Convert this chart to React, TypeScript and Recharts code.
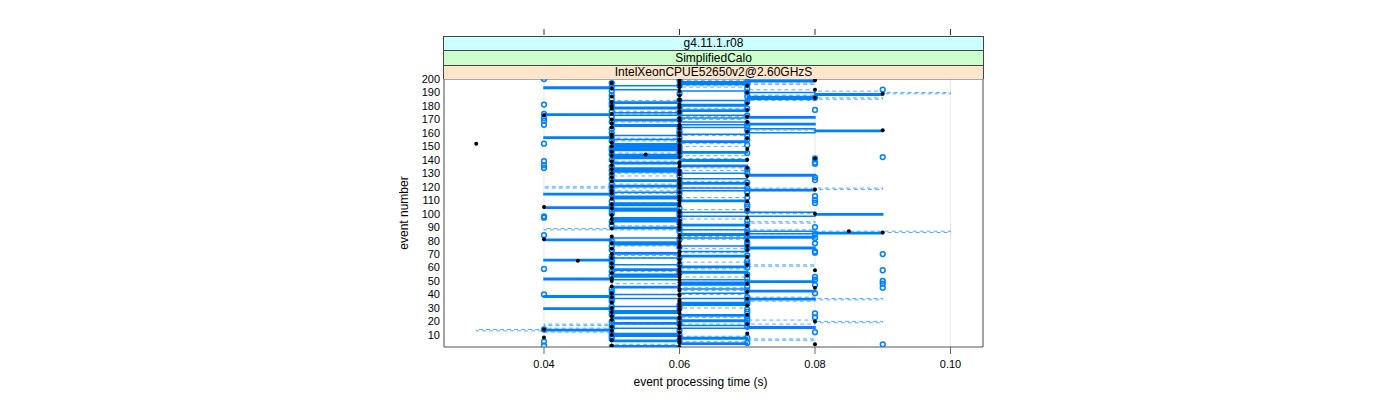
import { CartesianGrid, ComposedChart, Line, ReferenceArea, Scatter, XAxis, YAxis } from "recharts";

// event index 1..200 (the y positions)
const EVENTS = Array.from({ length: 200 }, (_, i) => i + 1);

const X_TICKS = [0.04, 0.06, 0.08, 0.1];
const Y_TICKS = [10, 20, 30, 40, 50, 60, 70, 80, 90, 100, 110, 120, 130, 140, 150, 160, 170, 180, 190, 200];
const STRIP_LABELS = ["g4.11.1.r08", "SimplifiedCalo", "IntelXeonCPUE52650v2@2.60GHzS"];

// solid step line, event 1..200
const SOLID_STEP = [
  0.06, 0.05, 0.06, 0.07, 0.06, 0.05, 0.06, 0.07, 0.06, 0.05,
  0.06, 0.05, 0.05, 0.04, 0.05, 0.08, 0.07, 0.06, 0.05, 0.06,
  0.07, 0.06, 0.05, 0.06, 0.07, 0.06, 0.05, 0.06, 0.05, 0.04,
  0.05, 0.06, 0.07, 0.06, 0.07, 0.07, 0.08, 0.05, 0.04, 0.05,
  0.06, 0.07, 0.08, 0.07, 0.06, 0.05, 0.06, 0.07, 0.06, 0.08,
  0.07, 0.04, 0.05, 0.06, 0.05, 0.06, 0.07, 0.06, 0.05, 0.06,
  0.07, 0.06, 0.05, 0.05, 0.05, 0.04, 0.05, 0.06, 0.07, 0.06,
  0.05, 0.06, 0.07, 0.07, 0.08, 0.07, 0.06, 0.05, 0.06, 0.05,
  0.04, 0.05, 0.08, 0.07, 0.06, 0.09, 0.08, 0.07, 0.06, 0.05,
  0.06, 0.07, 0.06, 0.06, 0.05, 0.06, 0.05, 0.06, 0.08, 0.09,
  0.08, 0.06, 0.05, 0.06, 0.04, 0.05, 0.06, 0.05, 0.06, 0.07,
  0.06, 0.05, 0.06, 0.05, 0.04, 0.05, 0.06, 0.08, 0.07, 0.06,
  0.05, 0.06, 0.07, 0.06, 0.05, 0.06, 0.07, 0.07, 0.08, 0.07,
  0.06, 0.05, 0.06, 0.05, 0.06, 0.07, 0.06, 0.05, 0.06, 0.07,
  0.06, 0.05, 0.06, 0.05, 0.06, 0.07, 0.06, 0.05, 0.06, 0.05,
  0.06, 0.05, 0.06, 0.07, 0.06, 0.05, 0.04, 0.05, 0.06, 0.07,
  0.08, 0.09, 0.08, 0.07, 0.06, 0.05, 0.08, 0.07, 0.06, 0.05,
  0.06, 0.08, 0.07, 0.04, 0.05, 0.06, 0.07, 0.06, 0.05, 0.06,
  0.07, 0.06, 0.05, 0.06, 0.07, 0.08, 0.07, 0.08, 0.09, 0.08,
  0.07, 0.06, 0.05, 0.04, 0.05, 0.06, 0.07, 0.06, 0.08, 0.07,
];

// dashed step line, event 1..200
const DASHED_STEP = [
  0.06, 0.06, 0.06, 0.05, 0.05, 0.07, 0.08, 0.07, 0.07, 0.06,
  0.06, 0.05, 0.04, 0.03, 0.04, 0.05, 0.05, 0.04, 0.08, 0.09,
  0.08, 0.07, 0.07, 0.06, 0.06, 0.06, 0.05, 0.05, 0.06, 0.06,
  0.07, 0.07, 0.06, 0.06, 0.07, 0.08, 0.09, 0.08, 0.07, 0.07,
  0.06, 0.06, 0.06, 0.07, 0.07, 0.05, 0.05, 0.05, 0.06, 0.06,
  0.06, 0.07, 0.07, 0.06, 0.06, 0.05, 0.05, 0.06, 0.06, 0.07,
  0.07, 0.08, 0.07, 0.07, 0.06, 0.06, 0.06, 0.05, 0.05, 0.06,
  0.06, 0.07, 0.07, 0.07, 0.06, 0.06, 0.05, 0.05, 0.06, 0.06,
  0.06, 0.07, 0.07, 0.06, 0.06, 0.08, 0.1, 0.08, 0.04, 0.05,
  0.05, 0.06, 0.07, 0.08, 0.07, 0.07, 0.06, 0.06, 0.07, 0.07,
  0.08, 0.07, 0.07, 0.06, 0.06, 0.06, 0.05, 0.05, 0.06, 0.06,
  0.07, 0.07, 0.06, 0.06, 0.06, 0.05, 0.05, 0.08, 0.09, 0.04,
  0.05, 0.05, 0.06, 0.06, 0.07, 0.07, 0.06, 0.06, 0.05, 0.05,
  0.06, 0.06, 0.07, 0.07, 0.06, 0.06, 0.06, 0.05, 0.05, 0.06,
  0.06, 0.07, 0.07, 0.06, 0.06, 0.05, 0.05, 0.06, 0.06, 0.06,
  0.07, 0.07, 0.06, 0.06, 0.05, 0.05, 0.06, 0.06, 0.07, 0.07,
  0.07, 0.07, 0.08, 0.07, 0.06, 0.06, 0.05, 0.05, 0.06, 0.06,
  0.07, 0.07, 0.06, 0.06, 0.05, 0.05, 0.06, 0.06, 0.07, 0.07,
  0.06, 0.06, 0.05, 0.05, 0.08, 0.09, 0.08, 0.07, 0.09, 0.1,
  0.09, 0.08, 0.07, 0.07, 0.06, 0.07, 0.08, 0.07, 0.07, 0.06,
];

// filled black points, event 1..200
const BLACK_TIME = [
  0.06, 0.05, 0.08, 0.06, 0.06, 0.05, 0.06, 0.04, 0.06, 0.05,
  0.07, 0.06, 0.05, 0.04, 0.06, 0.05, 0.06, 0.07, 0.06, 0.08,
  0.05, 0.06, 0.06, 0.05, 0.07, 0.06, 0.05, 0.06, 0.06, 0.05,
  0.06, 0.07, 0.06, 0.05, 0.06, 0.06, 0.07, 0.05, 0.06, 0.06,
  0.05, 0.07, 0.06, 0.06, 0.08, 0.05, 0.06, 0.07, 0.06, 0.05,
  0.06, 0.05, 0.06, 0.07, 0.06, 0.05, 0.06, 0.08, 0.06, 0.05,
  0.06, 0.07, 0.05, 0.06, 0.045, 0.06, 0.05, 0.07, 0.06, 0.05,
  0.06, 0.06, 0.07, 0.05, 0.06, 0.07, 0.06, 0.05, 0.06, 0.07,
  0.04, 0.06, 0.05, 0.06, 0.07, 0.09, 0.085, 0.06, 0.05, 0.06,
  0.07, 0.06, 0.05, 0.06, 0.06, 0.05, 0.07, 0.06, 0.05, 0.08,
  0.06, 0.06, 0.07, 0.05, 0.04, 0.06, 0.05, 0.06, 0.07, 0.06,
  0.05, 0.06, 0.06, 0.07, 0.05, 0.06, 0.05, 0.08, 0.06, 0.05,
  0.06, 0.07, 0.06, 0.05, 0.06, 0.06, 0.05, 0.07, 0.06, 0.05,
  0.06, 0.06, 0.05, 0.07, 0.06, 0.05, 0.06, 0.06, 0.05, 0.07,
  0.08, 0.06, 0.05, 0.055, 0.06, 0.05, 0.06, 0.07, 0.06, 0.05,
  0.06, 0.03, 0.05, 0.06, 0.06, 0.07, 0.05, 0.06, 0.05, 0.06,
  0.07, 0.09, 0.06, 0.05, 0.06, 0.06, 0.05, 0.07, 0.06, 0.05,
  0.06, 0.07, 0.04, 0.05, 0.06, 0.06, 0.07, 0.05, 0.06, 0.05,
  0.06, 0.07, 0.05, 0.06, 0.06, 0.08, 0.05, 0.06, 0.09, 0.07,
  0.06, 0.08, 0.05, 0.06, 0.07, 0.06, 0.05, 0.06, 0.08, 0.06,
];

// open blue circles, event 1..200
const BLUE_TIME = [
  0.05, 0.04, 0.09, 0.07, 0.04, 0.06, 0.05, 0.07, 0.05, 0.06,
  0.05, 0.08, 0.06, 0.04, 0.05, 0.07, 0.05, 0.06, 0.07, 0.05,
  0.06, 0.07, 0.08, 0.07, 0.05, 0.08, 0.07, 0.05, 0.07, 0.06,
  0.05, 0.06, 0.07, 0.07, 0.05, 0.07, 0.05, 0.07, 0.05, 0.04,
  0.08, 0.05, 0.07, 0.05, 0.09, 0.07, 0.08, 0.09, 0.07, 0.09,
  0.08, 0.07, 0.08, 0.05, 0.07, 0.06, 0.05, 0.09, 0.04, 0.07,
  0.05, 0.06, 0.07, 0.05, 0.07, 0.05, 0.06, 0.05, 0.07, 0.09,
  0.08, 0.08, 0.05, 0.07, 0.06, 0.05, 0.07, 0.08, 0.07, 0.05,
  0.06, 0.08, 0.07, 0.04, 0.08, 0.07, 0.06, 0.07, 0.06, 0.08,
  0.05, 0.07, 0.06, 0.05, 0.07, 0.06, 0.04, 0.04, 0.06, 0.05,
  0.06, 0.07, 0.05, 0.06, 0.07, 0.05, 0.07, 0.08, 0.05, 0.08,
  0.06, 0.07, 0.08, 0.05, 0.06, 0.07, 0.05, 0.06, 0.07, 0.05,
  0.06, 0.05, 0.07, 0.06, 0.08, 0.05, 0.08, 0.06, 0.05, 0.07,
  0.06, 0.05, 0.07, 0.04, 0.05, 0.04, 0.08, 0.08, 0.04, 0.05,
  0.08, 0.09, 0.06, 0.05, 0.07, 0.06, 0.05, 0.06, 0.05, 0.06,
  0.07, 0.04, 0.06, 0.05, 0.07, 0.06, 0.05, 0.07, 0.06, 0.05,
  0.06, 0.07, 0.05, 0.06, 0.07, 0.04, 0.07, 0.05, 0.04, 0.06,
  0.04, 0.05, 0.07, 0.04, 0.06, 0.05, 0.08, 0.07, 0.06, 0.05,
  0.04, 0.05, 0.07, 0.06, 0.05, 0.08, 0.07, 0.05, 0.06, 0.07,
  0.05, 0.09, 0.07, 0.05, 0.06, 0.07, 0.05, 0.07, 0.06, 0.04,
];

const BLUE = "#0080ff";
const STRIP_COLORS = ["#ccffff", "#ccffcc", "#ffe5cc"];
const X_DOMAIN = [0.02524, 0.1048];
const FONT = "'Liberation Sans', Arial, Helvetica, sans-serif";

const solidRows = EVENTS.map((event, i) => ({ event, time: SOLID_STEP[i] }));
const dashedRows = EVENTS.map((event, i) => ({ event, time: DASHED_STEP[i] }));
const blackRows = EVENTS.map((event, i) => ({ event, time: BLACK_TIME[i] }));
const blueRows = EVENTS.map((event, i) => ({ event, time: BLUE_TIME[i] }));

function TopTick({ x, y }: { x?: number; y?: number }) {
  const yy = y ?? 0;
  return <line x1={x} x2={x} y1={yy - 42} y2={yy - 36} stroke="#333" />;
}

function OpenCircle({ cx, cy }: { cx?: number; cy?: number }) {
  return <circle cx={cx} cy={cy} r={2.4} fill="none" stroke={BLUE} strokeWidth={1.5} />;
}

function Dot({ cx, cy }: { cx?: number; cy?: number }) {
  return <circle cx={cx} cy={cy} r={2} fill="#000" />;
}

export default function App() {
  return (
    <div style={{ position: "absolute", left: 0, top: 0, width: 1400, height: 400, fontFamily: FONT }}>
      <ComposedChart
        width={1400}
        height={400}
        layout="vertical"
        margin={{ top: 49, right: 417, bottom: 23, left: 404 }}
        style={{ fontFamily: FONT }}
      >
        <CartesianGrid horizontal={false} stroke="#e8e8e8" xAxisId="bottom" />
        <XAxis
          xAxisId="bottom"
          type="number"
          dataKey="time"
          domain={X_DOMAIN}
          allowDataOverflow
          ticks={X_TICKS}
          tickFormatter={(v: number) => v.toFixed(2)}
          tick={{ fill: "#000", fontSize: 11 }}
          tickLine={{ stroke: "#666" }}
          tickSize={7}
          tickMargin={6}
          axisLine={false}
          height={30}
          label={{ value: "event processing time (s)", position: "bottom", offset: 0, dx: -13, fill: "#000", fontSize: 12 }}
        />
        <XAxis
          xAxisId="top"
          orientation="top"
          type="number"
          domain={X_DOMAIN}
          allowDataOverflow
          ticks={X_TICKS}
          tick={<TopTick />}
          tickLine={false}
          axisLine={false}
          height={30}
        />
        <YAxis
          type="number"
          dataKey="event"
          domain={[1, 200]}
          reversed
          allowDataOverflow
          ticks={Y_TICKS}
          interval={0}
          tick={{ fill: "#000", fontSize: 11 }}
          tickLine={false}
          tickSize={0}
          tickMargin={4}
          axisLine={false}
          width={40}
          label={{ value: "event number", angle: -90, position: "insideLeft", offset: 0, fill: "#000", fontSize: 12, style: { textAnchor: "middle" } }}
        />
        <Line
          xAxisId="bottom"
          data={dashedRows}
          dataKey="time"
          type="stepAfter"
          stroke={BLUE}
          strokeOpacity={0.65}
          strokeWidth={1}
          strokeDasharray="4 3"
          dot={false}
          activeDot={false}
          isAnimationActive={false}
        />
        <Line
          xAxisId="bottom"
          data={solidRows}
          dataKey="time"
          type="stepAfter"
          stroke={BLUE}
          strokeWidth={1.5}
          dot={false}
          activeDot={false}
          isAnimationActive={false}
        />
        <Scatter xAxisId="bottom" data={blueRows} dataKey="time" shape={<OpenCircle />} isAnimationActive={false} />
        <Scatter xAxisId="bottom" data={blackRows} dataKey="time" shape={<Dot />} isAnimationActive={false} />
        <ReferenceArea
          xAxisId="bottom"
          x1={X_DOMAIN[0]}
          x2={X_DOMAIN[1]}
          y1={1}
          y2={200}
          fill="none"
          stroke="#555"
          ifOverflow="visible"
        />
      </ComposedChart>
      <div style={{ position: "absolute", left: 443, top: 36, width: 539, border: "1px solid #444", borderBottom: "none" }}>
        {STRIP_LABELS.map((label, i) => (
          <div
            key={label}
            style={{
              background: STRIP_COLORS[i],
              borderTop: i === 0 ? "none" : "1px solid #444",
              height: i === 1 ? 14 : 13,
              lineHeight: i === 1 ? "14px" : "13px",
              fontSize: 12,
              textAlign: "center",
              color: "#000",
            }}
          >
            {label}
          </div>
        ))}
      </div>
    </div>
  );
}
